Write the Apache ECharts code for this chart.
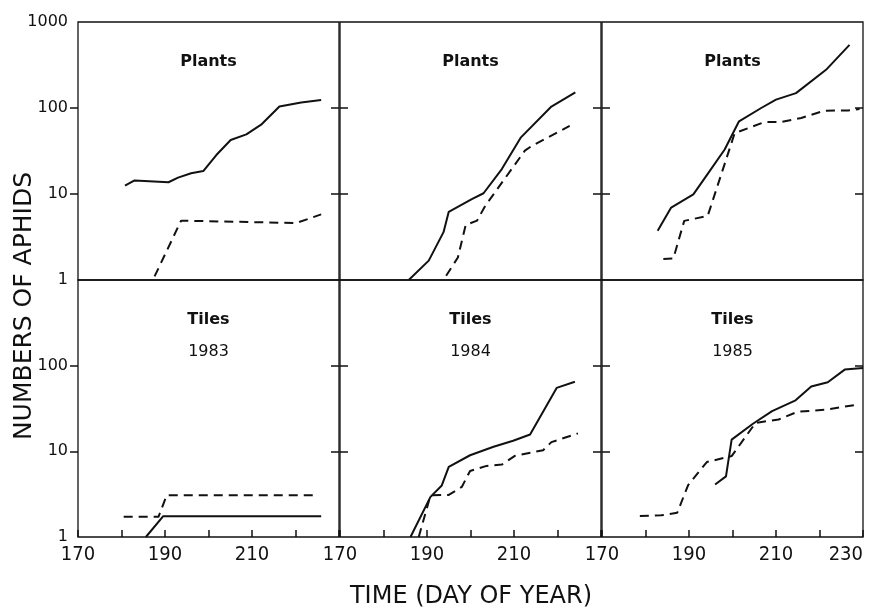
<!DOCTYPE html>
<html>
<head>
<meta charset="utf-8">
<script src="https://cdn.jsdelivr.net/npm/echarts@6/dist/echarts.min.js"></script>
<style>html,body{margin:0;padding:0;background:#fff}#c{width:873px;height:608px}</style>
</head>
<body>
<div id="c"></div>
<script>
// ---- data (day of year, number of aphids) ----
const plants1983SolidDays = [180.8,183,190.8,193,196,198.8,201.8,205.1,208.7,212.1,216.3,221.3,225.9];
const plants1983SolidVals = [12.5,14.4,13.7,15.5,17.4,18.5,28.4,42.5,49.4,64,104,116,124];
const plants1983DashDays  = [187.6,193.7,220.2,225.9];
const plants1983DashVals  = [1.1,4.9,4.6,5.8];

const plants1984SolidDays = [185.8,190.4,193.8,195,200.3,203,207.2,211.6,218.6,224.1];
const plants1984SolidVals = [1,1.68,3.6,6.2,8.7,10.2,19.5,45.6,104,152];
const plants1984DashDays  = [194.4,197.1,198.9,201.5,203.4,212.5,214,222.8];
const plants1984DashVals  = [1.12,1.83,4.36,4.9,7.3,31.9,36,62];

const plants1985SolidDays = [182.8,185.9,191,193.7,198.2,201.5,206.6,210,214.6,221.5,226.9];
const plants1985SolidVals = [3.73,6.95,9.9,15.5,32.9,70,100,125,149,278,542];
const plants1985DashDays  = [184.1,186.4,188.9,194.3,200.5,207.4,211.2,215.8,221.1,226.5,229.2];
const plants1985DashVals  = [1.75,1.78,4.87,5.56,51,68.8,68.8,76.6,93,93.5,97.5];

const tiles1983SolidDays = [185.6,189.6,225.9];
const tiles1983SolidVals = [1,1.75,1.75];
const tiles1983DashDays  = [180.5,188.5,190.4,224.4];
const tiles1983DashVals  = [1.72,1.72,3.08,3.08];

const tiles1984SolidDays = [186.2,190.8,193.4,195,199.9,205.3,209.8,213.7,219.8,224];
const tiles1984SolidVals = [1,2.94,4.0,6.6,9.0,11.3,13.3,15.7,55,65];
const tiles1984DashDays  = [188.1,190.8,195,198,199.9,203.7,207.2,210.2,216.7,218.6,224.7];
const tiles1984DashVals  = [1,3.07,3.1,3.84,5.9,6.76,7.0,8.85,10.3,12.8,16.2];

const tiles1985SolidDays = [196,198.5,199.8,204.7,209.1,214.5,218.1,221.9,225.8,230];
const tiles1985SolidVals = [4.1,5.1,13.7,21,29.4,39.4,57,64,90,94];
const tiles1985DashDays  = [178.7,183.6,187.3,189.8,194.1,199.8,205.3,210.6,214.9,221.4,228.8];
const tiles1985DashVals  = [1.76,1.79,1.92,4.04,7.5,8.8,21.5,23.5,28.9,30.7,35.1];

const panelTitles = ['Plants','Plants','Plants','Tiles','Tiles','Tiles'];
const panelYears  = ['','','','1983','1984','1985'];
const xTickLabels = [170,190,210];
const xTickLabelsLast = [170,190,210,230];
const yTickLabelsTop = [1,10,100,1000];
const yTickLabelsBottom = [1,10,100];
const yTicks = [10,100];

const panels = [
  [plants1983SolidDays,plants1983SolidVals,plants1983DashDays,plants1983DashVals],
  [plants1984SolidDays,plants1984SolidVals,plants1984DashDays,plants1984DashVals],
  [plants1985SolidDays,plants1985SolidVals,plants1985DashDays,plants1985DashVals],
  [tiles1983SolidDays,tiles1983SolidVals,tiles1983DashDays,tiles1983DashVals],
  [tiles1984SolidDays,tiles1984SolidVals,tiles1984DashDays,tiles1984DashVals],
  [tiles1985SolidDays,tiles1985SolidVals,tiles1985DashDays,tiles1985DashVals]
];

// ---- layout ----
const colLeft = [78, 340, 602];
const colW = 261;
const rowTop = [22, 280];
const rowH = [258, 257];
const FONT = 'DejaVu Sans';
const XFONT = '"DejaVu Sans Condensed", "Liberation Sans Narrow", "DejaVu Sans"';

const grids = [], xAxes = [], yAxes = [], series = [], graphics = [];
const zip = (a, b) => a.map((d, i) => [d, b[i]]);

for (let p = 0; p < 6; p++) {
  const r = Math.floor(p / 3), c = p % 3;
  grids.push({left: colLeft[c], top: rowTop[r], width: colW, height: rowH[r],
    containLabel: false, outerBoundsMode: 'none',
    show: true, borderColor: '#111', borderWidth: 1.3, backgroundColor: 'transparent'});
  const bottomRow = r === 1;
  xAxes.push({
    type: 'value', gridIndex: p, min: 170, max: 230, interval: 10,
    axisLine: {show: false},
    splitLine: {show: false},
    axisTick: {show: bottomRow, inside: true, length: 7, lineStyle: {color: '#111', width: 1.5}},
    axisLabel: {show: bottomRow, customValues: (c === 2 ? xTickLabelsLast : xTickLabels),
      color: '#111', fontFamily: XFONT, fontSize: 20, margin: 8,
      alignMaxLabel: (c === 2 ? 'right' : null),
      formatter: v => String(Math.round(v))}
  });
  const leftCol = c === 0;
  yAxes.push({
    type: 'log', logBase: 10, gridIndex: p, min: 1, max: 1000, position: 'left',
    axisLine: {show: false}, splitLine: {show: false}, minorTick: {show: false},
    axisTick: {show: true, inside: !leftCol, length: 8, customValues: yTicks,
      lineStyle: {color: '#111', width: 1.5}},
    axisLabel: {show: leftCol, customValues: (r === 0 ? yTickLabelsTop : yTickLabelsBottom),
      color: '#111', fontFamily: FONT, fontSize: 16, margin: 10,
      formatter: v => String(Math.round(v))}
  });
  yAxes.push({
    type: 'log', logBase: 10, gridIndex: p, min: 1, max: 1000, position: 'right',
    axisLine: {show: false}, splitLine: {show: false}, minorTick: {show: false},
    axisTick: {show: true, inside: true, length: 8, customValues: yTicks,
      lineStyle: {color: '#111', width: 1.5}},
    axisLabel: {show: false}
  });
  const d = panels[p];
  series.push({type: 'line', xAxisIndex: p, yAxisIndex: 2 * p, data: zip(d[0], d[1]),
    showSymbol: false, symbol: 'none', clip: true, silent: true, animation: false,
    lineStyle: {color: '#111', width: 2, type: 'solid'}});
  series.push({type: 'line', xAxisIndex: p, yAxisIndex: 2 * p, data: zip(d[2], d[3]),
    showSymbol: false, symbol: 'none', clip: true, silent: true, animation: false,
    lineStyle: {color: '#111', width: 2, type: [9, 6]}});
  const cx = colLeft[c] + colW / 2;
  graphics.push({type: 'text', x: cx, y: rowTop[r] + 40, style: {text: panelTitles[p],
    fill: '#111', font: '600 16px "' + FONT + '"', textAlign: 'center', textVerticalAlign: 'middle'}});
  if (panelYears[p]) {
    graphics.push({type: 'text', x: cx, y: rowTop[r] + 72, style: {text: panelYears[p],
      fill: '#111', font: '16px "' + FONT + '"', textAlign: 'center', textVerticalAlign: 'middle'}});
  }
}

graphics.push({type: 'text', x: 24, y: 306, rotation: Math.PI / 2,
  style: {text: 'NUMBERS OF APHIDS', fill: '#111', font: '25px "' + FONT + '"',
    textAlign: 'center', textVerticalAlign: 'middle'}});
graphics.push({type: 'text', x: 471, y: 597,
  style: {text: 'TIME (DAY OF YEAR)', fill: '#111', font: '24px "' + FONT + '"',
    textAlign: 'center', textVerticalAlign: 'middle'}});

const chart = echarts.init(document.getElementById('c'), null, {renderer: 'canvas'});
chart.setOption({
  animation: false,
  backgroundColor: '#fff',
  grid: grids, xAxis: xAxes, yAxis: yAxes, series: series, graphic: graphics
});
</script>
</body>
</html>
